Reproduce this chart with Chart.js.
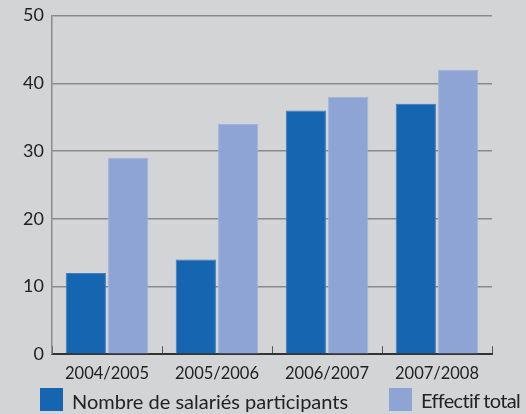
<!DOCTYPE html>
<html>
<head>
<meta charset="utf-8">
<script src="https://cdn.jsdelivr.net/npm/chart.js@4"></script>
<style>
  html, body { margin: 0; padding: 0; background: #d3d4d6; }
  #wrap { position: relative; width: 526px; height: 414px; font-family: Lato, "Open Sans", sans-serif; }
  #legend .item { position: absolute; top: 388px; }
  #legend .box { position: absolute; left: 0; top: 0; width: 23px; height: 23px; }
  #legend .txt { position: absolute; left: 32px; white-space: nowrap; font-size: 20px; line-height: 22px; color: #222; }
</style>
</head>
<body>
<div id="wrap">
  <canvas id="barChart" width="526" height="414"></canvas>
  <div id="legend"></div>
</div>
<script>
// academic years
const years = ['2004/2005', '2005/2006', '2006/2007', '2007/2008'];
// values
const participants = [12, 14, 36, 37];
const totalStaff = [29, 34, 38, 42];
const yTicks = [0, 10, 20, 30, 40, 50];

// legend item left edges, text offsets and spacing
const legendLeft = [40, 389];
const legendTextTop = [2, 1];
const legendSpacing = ['0px', '-0.7px'];

const ctx = document.getElementById('barChart').getContext('2d');
Chart.defaults.font.family = 'Lato, "Open Sans", sans-serif';
Chart.defaults.color = '#222';

// simple html legend built from the datasets
const htmlLegend = {
  id: 'htmlLegend',
  afterUpdate(chart) {
    const legendBox = document.getElementById('legend');
    legendBox.innerHTML = '';
    chart.data.datasets.forEach((ds, i) => {
      const item = document.createElement('div');
      item.className = 'item';
      item.style.left = legendLeft[i] + 'px';
      const box = document.createElement('span');
      box.className = 'box';
      box.style.background = ds.backgroundColor;
      const txt = document.createElement('span');
      txt.className = 'txt';
      txt.style.top = legendTextTop[i] + 'px';
      txt.style.letterSpacing = legendSpacing[i];
      txt.textContent = ds.label;
      item.appendChild(box);
      item.appendChild(txt);
      legendBox.appendChild(item);
    });
  }
};

const barChart = new Chart(ctx, {
  type: 'bar',
  data: {
    labels: years,
    datasets: [
      {
        label: 'Nombre de salariés participants',
        data: participants,
        backgroundColor: '#1565b0',
        borderColor: '#3f7cc0',
        borderWidth: 1,
        borderSkipped: 'bottom'
      },
      {
        label: 'Effectif total',
        data: totalStaff,
        backgroundColor: '#8da4d4',
        borderColor: '#9fb3dc',
        borderWidth: 1,
        borderSkipped: 'bottom'
      }
    ]
  },
  options: {
    responsive: false,
    animation: false,
    categoryPercentage: 0.77,
    barPercentage: 0.95,
    layout: { padding: { top: 0, right: 34, left: -1, bottom: 12 } },
    plugins: {
      tooltip: { enabled: false },
      legend: { display: false }
    },
    scales: {
      x: {
        grid: {
          offset: true,
          drawOnChartArea: false,
          drawTicks: true,
          tickLength: -8,
          color: '#555',
          lineWidth: 1
        },
        border: { color: '#333', width: 2 },
        ticks: { font: { size: 16.5 }, padding: 18, color: '#222' }
      },
      y: {
        min: 0,
        max: 50,
        afterFit: (scale) => { scale.width = 53; },
        afterBuildTicks: (scale) => { scale.ticks = yTicks.map(v => ({ value: v })); },
        grid: { color: '#8a8a8a', lineWidth: 1.5, drawTicks: false },
        border: { color: '#8a8a8a', width: 1.5 },
        ticks: { font: { size: 18, lineHeight: 0.85 }, padding: 8, color: '#222' }
      }
    }
  },
  plugins: [htmlLegend]
});
</script>
</body>
</html>
